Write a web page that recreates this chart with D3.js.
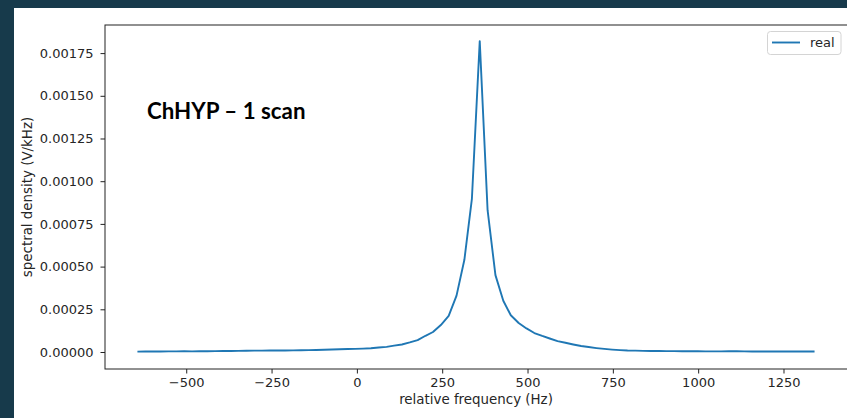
<!DOCTYPE html>
<html>
<head>
<meta charset="utf-8">
<script src="https://cdn.jsdelivr.net/npm/d3@7"></script>
<style>
  html, body { margin: 0; padding: 0; background: #173a4b; }
  svg { display: block; }
</style>
</head>
<body>
<svg id="chart" width="847" height="418"></svg>
<script>
// ---- data ----
const frequencies = [
  -643, -620, -597, -575, -552, -529, -506, -483, -461, -438,
  -415, -392, -369, -347, -324, -301, -278, -255, -233, -210,
  -187, -164, -141, -119, -96, -73, -50, -27, -5, 18,
  41, 64, 87, 109, 132, 155, 178, 201, 223, 246,
  269, 292, 315, 337, 360, 383, 406, 429, 451, 474,
  497, 520, 543, 565, 588, 611, 634, 657, 679, 702,
  725, 748, 771, 793, 816, 839, 862, 885, 907, 930,
  953, 976, 999, 1021, 1044, 1067, 1090, 1113, 1135, 1158,
  1181, 1204, 1227, 1249, 1272, 1295, 1318, 1341
];
const realValues = [
  0.0000025, 0.0000027, 0.0000030, 0.0000030, 0.0000035, 0.0000038, 0.0000040, 0.0000035, 0.0000040, 0.0000045,
  0.0000050, 0.0000055, 0.0000060, 0.0000065, 0.0000070, 0.0000078, 0.0000080, 0.0000085, 0.0000085, 0.0000090,
  0.0000098, 0.0000105, 0.0000113, 0.0000120, 0.0000130, 0.0000145, 0.0000160, 0.0000175, 0.0000185, 0.0000200,
  0.0000220, 0.0000260, 0.0000300, 0.0000370, 0.0000440, 0.0000560, 0.0000700, 0.0000950, 0.0001170, 0.0001580,
  0.0002110, 0.0003300, 0.0005400, 0.0008960, 0.0018200, 0.0008300, 0.0004500, 0.0003000, 0.0002150, 0.0001700,
  0.0001380, 0.0001110, 0.0000940, 0.0000790, 0.0000640, 0.0000540, 0.0000440, 0.0000350, 0.0000290, 0.0000230,
  0.0000180, 0.0000140, 0.0000110, 0.0000090, 0.0000080, 0.0000065, 0.0000060, 0.0000055, 0.0000050, 0.0000050,
  0.0000045, 0.0000040, 0.0000040, 0.0000038, 0.0000035, 0.0000035, 0.0000040, 0.0000040, 0.0000035, 0.0000030,
  0.0000030, 0.0000030, 0.0000030, 0.0000028, 0.0000030, 0.0000030, 0.0000030, 0.0000030
];
const xTicks = [-500, -250, 0, 250, 500, 750, 1000, 1250];
const yTicks = [0, 0.00025, 0.0005, 0.00075, 0.001, 0.00125, 0.0015, 0.00175];
const seriesName = "real";
const titleText = "ChHYP \u2013 1 scan";
const xLabel = "relative frequency (Hz)";
const yLabel = "spectral density (V/kHz)";

// ---- layout ----
const svg = d3.select("#chart");
const W = 847, H = 418;
const plot = { left: 105, right: 848, top: 25, bottom: 369 };
const font = "'DejaVu Sans', sans-serif";
const textColor = "#262626";
const fs = 13;

svg.append("rect").attr("x", 14).attr("y", 8).attr("width", W - 14).attr("height", H - 8).attr("fill", "#ffffff");

const x = d3.scaleLinear().domain([-738, 1439]).range([plot.left, plot.right]);
const y = d3.scaleLinear().domain([-0.0000995, 0.0019145]).range([plot.bottom, plot.top]);

// line
const data = frequencies.map((f, i) => ({ f, v: realValues[i] }));
const line = d3.line().x(d => x(d.f)).y(d => y(d.v));
svg.append("path").datum(data)
  .attr("d", line)
  .attr("fill", "none")
  .attr("stroke", "#1f77b4")
  .attr("stroke-width", 1.9)
  .attr("stroke-linejoin", "round")
  .attr("stroke-linecap", "butt");

// spines
svg.append("rect")
  .attr("x", plot.left).attr("y", plot.top)
  .attr("width", plot.right - plot.left).attr("height", plot.bottom - plot.top)
  .attr("fill", "none").attr("stroke", "#222").attr("stroke-width", 1);

// x axis
const xAxis = d3.axisBottom(x).tickValues(xTicks).tickSize(4.5).tickPadding(4)
  .tickFormat(d => d < 0 ? "\u2212" + Math.abs(d) : String(d));
const gx = svg.append("g").attr("transform", `translate(0,${plot.bottom})`).call(xAxis);
gx.select(".domain").remove();
gx.selectAll("line").attr("stroke", "#222").attr("stroke-width", 1);
gx.selectAll("text").attr("fill", textColor).style("font-family", font).style("font-size", fs + "px");

// y axis
const yAxis = d3.axisLeft(y).tickValues(yTicks).tickSize(4.5).tickPadding(7)
  .tickFormat(d3.format(".5f"));
const gy = svg.append("g").attr("transform", `translate(${plot.left},0)`).call(yAxis);
gy.select(".domain").remove();
gy.selectAll("line").attr("stroke", "#222").attr("stroke-width", 1);
gy.selectAll("text").attr("fill", textColor).style("font-family", font).style("font-size", fs + "px");

// axis labels
svg.append("text")
  .attr("x", 476).attr("y", 404)
  .attr("text-anchor", "middle")
  .attr("fill", textColor).style("font-family", font).style("font-size", (fs + 0.4) + "px")
  .text(xLabel);
svg.append("text")
  .attr("transform", `translate(32,197) rotate(-90)`)
  .attr("text-anchor", "middle")
  .attr("fill", textColor).style("font-family", font).style("font-size", (fs + 0.4) + "px")
  .text(yLabel);

// title annotation
svg.append("text")
  .attr("x", 147).attr("y", 119)
  .attr("fill", "#000")
  .style("font-family", "Lato, 'Open Sans', sans-serif")
  .style("font-weight", "bold")
  .style("font-size", "22.3px")
  .text(titleText);

// legend
const lg = svg.append("g");
lg.append("rect")
  .attr("x", 767.5).attr("y", 31.5).attr("width", 73.5).attr("height", 23)
  .attr("rx", 3).attr("fill", "#fff").attr("stroke", "#d4d4d4").attr("stroke-width", 1);
lg.append("line")
  .attr("x1", 772).attr("x2", 800).attr("y1", 42.5).attr("y2", 42.5)
  .attr("stroke", "#1f77b4").attr("stroke-width", 1.9);
lg.append("text")
  .attr("x", 810).attr("y", 47)
  .attr("fill", textColor).style("font-family", font).style("font-size", fs + "px")
  .text(seriesName);
</script>
</body>
</html>
